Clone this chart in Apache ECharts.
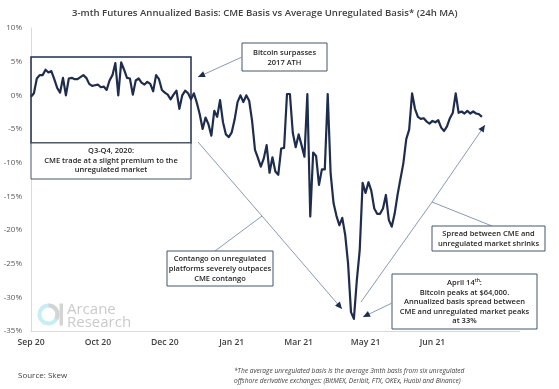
<!DOCTYPE html>
<html><head><meta charset="utf-8">
<script src="https://cdn.jsdelivr.net/npm/echarts@6.0.0/dist/echarts.min.js"></script>
<style>html,body{margin:0;padding:0;background:#fff}#c{width:559px;height:389px}</style>
</head><body><div id="c"></div>
<script>
// ---- data ----
const tickLabels = ['Sep 20', 'Oct 20', 'Dec 20', 'Jan 21', 'Mar 21', 'May 21', 'Jun 21'];
const pointsPerTick = 23;      // one point = 2 days, one tick label every 46 days
const totalSlots = 169;        // axis length in points
// CME basis minus average unregulated basis (%), 24h MA, sampled every 2 days
const basis = [
  -0.2, 0.3, 2.5, 3.0, 3.0, 3.8, 3.4, 3.6, 2.4, 1.1,
  0.4, 2.6, 0.0, 2.5, 2.6, 2.4, 2.4, 2.7, 3.0, 2.6,
  1.7, 1.4, 1.5, 1.6, 1.2, 1.3, 0.8, 2.2, 3.0, 4.8,
  0.0, 4.9, 3.8, 2.6, 2.5, 0.1, 2.2, 2.5, 1.9, 1.6,
  2.0, 1.7, 0.6, 3.0, 2.4, 0.8, 0.4, 0.1, -0.6, 0.1,
  0.7, -2.0, 0.0, 0.7, 0.3, -0.6, 0.3, -1.1, -2.8, -5.0,
  -3.3, -4.3, -6.0, -2.3, -3.2, -0.7, -4.0, -5.8, -6.2, -5.5,
  -3.6, -1.0, 0.0, -1.0, 0.0, -0.8, -3.8, -8.1, -9.3, -10.6,
  -9.4, -7.4, -11.5, -9.2, -11.3, -11.8, -7.9, -7.8, 0.2, 0.2,
  -5.6, -7.7, -5.8, -7.4, -9.1, 0.2, -18.0, -8.5, -9.0, -13.3,
  -11.0, -11.0, 0.2, -11.6, -16.0, -17.9, -19.3, -18.2, -20.7, -25.0,
  -32.2, -33.2, -27.5, -23.0, -13.0, -14.5, -12.9, -14.2, -16.8, -17.6,
  -17.6, -16.8, -14.8, -18.5, -19.5, -17.6, -14.8, -12.4, -10.1, -6.5,
  -5.1, 0.3, -2.0, -3.2, -3.5, -3.4, -3.9, -4.2, -3.8, -4.0,
  -3.7, -4.8, -5.3, -4.6, -3.4, -2.6, 0.3, -2.6, -2.4, -2.7,
  -2.3, -2.7, -2.4, -2.7, -2.8, -3.2
];
const yMin = -35, yMax = 10, yStep = 5;
const categories = Array.from({length: totalSlots}, (_, i) => String(i));

// ---- chart ----
const FONT = '"Open Sans", "Noto Sans", sans-serif';
const chart = echarts.init(document.getElementById('c'), null, {renderer: 'canvas'});

function arrowHead(x1, y1, x2, y2, len, w) {
  const dx = x2 - x1, dy = y2 - y1, d = Math.hypot(dx, dy);
  const ux = dx / d, uy = dy / d, bx = x2 - ux * len, by = y2 - uy * len;
  return [[x2, y2], [bx - uy * w, by + ux * w], [bx + uy * w, by - ux * w]];
}
const AC = '#8a9ab3';
function arrowLine(x1, y1, x2, y2) {
  return [
    {type: 'line', z: 100, shape: {x1, y1, x2, y2}, style: {stroke: AC, lineWidth: 1}},
    {type: 'polygon', z: 100, shape: {points: arrowHead(x1, y1, x2, y2, 7, 3.2)}, style: {fill: '#1f2d4d'}}
  ];
}
function plainLine(x1, y1, x2, y2) {
  return {type: 'line', z: 100, shape: {x1, y1, x2, y2}, style: {stroke: AC, lineWidth: 1}};
}
function box(x, y, w, h, stroke, lw, fill) {
  return {type: 'rect', z: 100, shape: {x, y, width: w, height: h},
          style: {fill: fill || 'transparent', stroke, lineWidth: lw}};
}
function label(text, x, y, opt) {
  opt = opt || {};
  return {type: 'text', z: 101, style: Object.assign({
    text, x, y, textAlign: 'center', textVerticalAlign: 'middle',
    font: (opt.weight || '600') + ' ' + (opt.size || 7.5) + 'px ' + FONT,
    fill: opt.fill || '#262626', lineHeight: opt.lh || 10
  }, opt.extra || {})};
}

const graphics = [].concat(
  [box(31, 57, 160, 86, '#1f2d4d', 1.5), box(31, 143, 160, 36, '#44546a', 1, '#fff'),
   label('Q3-Q4, 2020:\nCME trade at a slight premium to the\nunregulated market', 111, 160.5, {lh: 9.8})],
  [box(242, 43, 85, 28, '#44546a', 1, '#fff'), label('Bitcoin surpasses\n2017 ATH', 284.5, 57.5)],
  arrowLine(242, 57, 198, 77),
  [plainLine(198, 142, 262, 216)], arrowLine(262, 216, 342, 309),
  [plainLine(215, 251, 262, 216)],
  [box(167, 251, 106, 35, '#44546a', 1, '#fff'),
   label('Contango on unregulated\nplatforms severely outpaces\nCME contango', 220, 269)],
  [plainLine(361, 302, 432, 202)], arrowLine(432, 202, 485, 125),
  [plainLine(432, 202, 492, 226)],
  [box(432, 226, 113, 25, '#44546a', 1, '#fff'),
   label('Spread between CME and\nunregulated market shrinks', 488.5, 239)],
  [box(392, 274, 145, 55, '#44546a', 1, '#fff'),
   {type: 'text', z: 101, style: {
     text: '{a|April 14}{s|th}{a|:}', x: 464.5, y: 283, textAlign: 'center', textVerticalAlign: 'middle',
     rich: {a: {font: '600 7.5px ' + FONT, fill: '#262626', lineHeight: 10},
            s: {font: '600 5px ' + FONT, fill: '#262626', verticalAlign: 'top', lineHeight: 10}}}},
   label('Bitcoin peaks at $64,000.\nAnnualized basis spread between\nCME and unregulated market peaks\nat 33%', 464.5, 307, {lh: 9.3})],
  arrowLine(392, 303, 363, 317),
  // logo
  [{type: 'ring', z: 5, shape: {cx: 48.5, cy: 314.5, r: 11, r0: 7}, style: {fill: '#c6eef3'}},
   {type: 'sector', z: 6, shape: {cx: 48.5, cy: 314.5, r: 11, r0: 7, startAngle: -Math.PI / 2, endAngle: Math.PI / 6, clockwise: true}, style: {fill: '#d4d4d4'}},
   {type: 'rect', z: 6, shape: {x: 59.5, y: 303.5, width: 3.5, height: 22}, style: {fill: '#d4d4d4'}},
   {type: 'text', z: 6, style: {text: 'Arcane', x: 67, y: 310, textVerticalAlign: 'middle', font: '15px ' + FONT, fill: '#cacaca'}},
   {type: 'text', z: 6, style: {text: 'Research', x: 67, y: 323, textVerticalAlign: 'middle', font: '15px ' + FONT, fill: '#cacaca'}}],
  // footer
  [{type: 'text', z: 6, style: {text: 'Source: Skew', x: 18, y: 376, textVerticalAlign: 'middle', font: '8px ' + FONT, fill: '#404040'}},
   {type: 'text', z: 6, style: {text: '*The average unregulated basis is the average 3mth basis from six unregulated\noffshore derivative exchanges: (BitMEX, Deribit, FTX, OKEx, Huobi and Binance)',
     x: 234, y: 376, textVerticalAlign: 'middle', font: 'italic 6.6px ' + FONT, fill: '#404040', lineHeight: 10}}]
);

chart.setOption({
  animation: false,
  backgroundColor: '#fff',
  title: {
    text: '3-mth Futures Annualized Basis: CME Basis vs Average Unregulated Basis* (24h MA)',
    left: 67, top: 3,
    textStyle: {fontFamily: FONT, fontSize: 9.6, fontWeight: 600, color: '#404040'}
  },
  grid: {left: 31, right: 559 - 31 - (totalSlots - 1) * 2.909, top: 28, bottom: 58, containLabel: false},
  xAxis: [{
    type: 'category', data: categories, boundaryGap: false,
    axisLine: {show: false}, axisTick: {show: false}, splitLine: {show: false},
    axisLabel: {
      interval: pointsPerTick - 1, margin: 7,
      formatter: (v) => tickLabels[Number(v) / pointsPerTick] || '',
      fontFamily: FONT, fontSize: 8.6, fontWeight: 600, color: '#404040'
    }
  }, {
    type: 'category', data: categories, boundaryGap: false, position: 'bottom',
    axisLine: {show: true, onZero: true, lineStyle: {color: '#d9d9d9', width: 1}},
    axisTick: {show: false}, axisLabel: {show: false}, splitLine: {show: false}
  }],
  yAxis: {
    type: 'value', min: yMin, max: yMax, interval: yStep,
    axisLine: {show: true, lineStyle: {color: '#d9d9d9'}},
    axisTick: {show: false}, splitLine: {show: false},
    axisLabel: {formatter: '{value}%', margin: 9, fontFamily: FONT, fontSize: 8, color: '#595959'}
  },
  series: [{
    type: 'line', data: basis, xAxisIndex: 0, showSymbol: false, symbol: 'none',
    lineStyle: {color: '#1f2d4d', width: 2.2, join: 'round'}, z: 3
  }],
  graphic: graphics
});
</script></body></html>
